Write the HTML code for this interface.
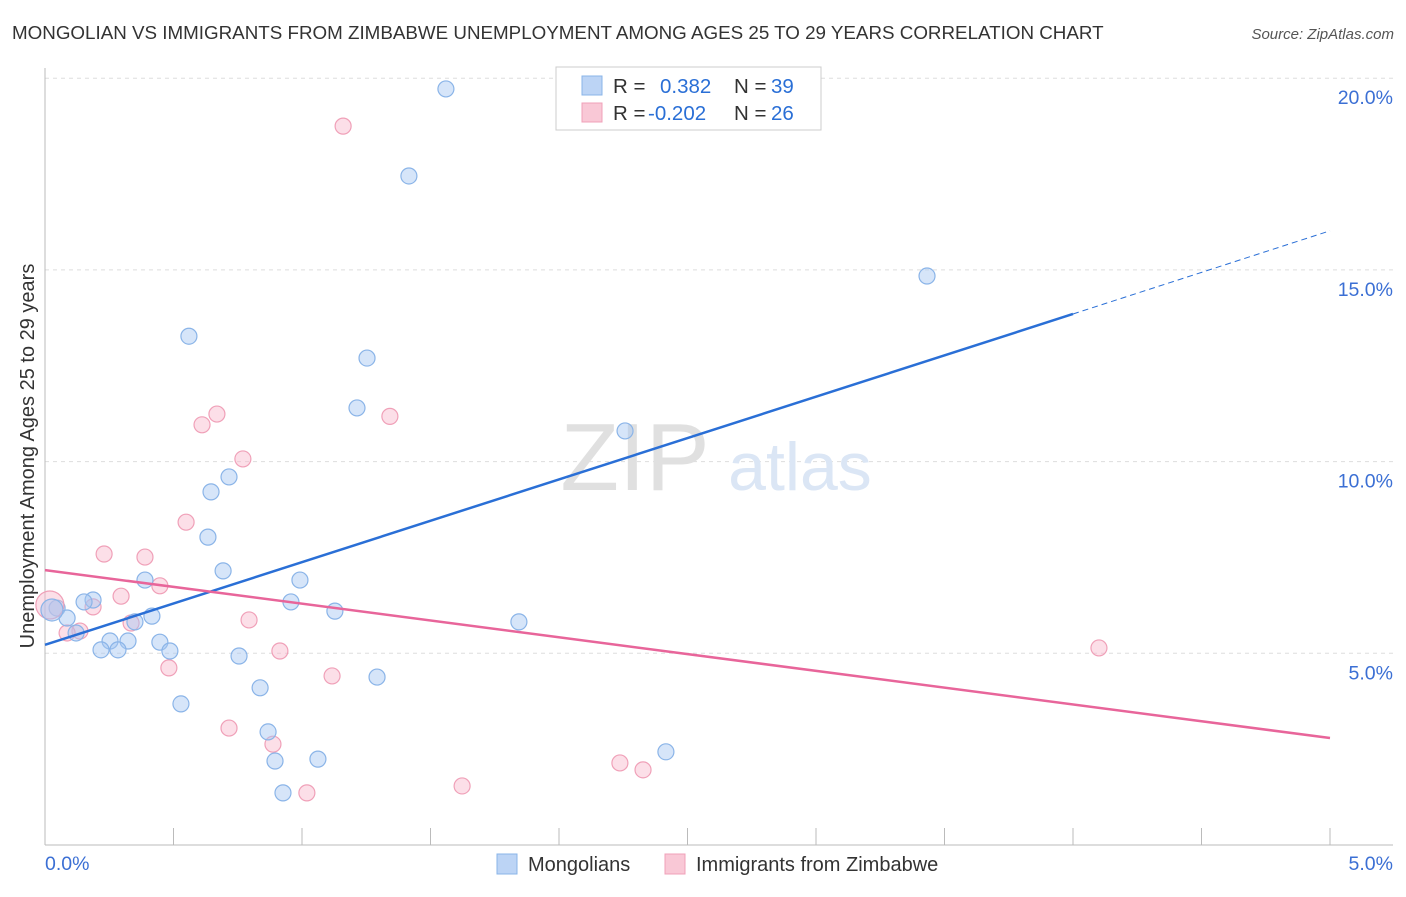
<!DOCTYPE html>
<html><head><meta charset="utf-8"><style>
body{margin:0;background:#fff;font-family:"Liberation Sans",sans-serif;}
svg text{font-family:"Liberation Sans",sans-serif;}
</style></head><body>
<svg id="c" width="1406" height="892" xmlns="http://www.w3.org/2000/svg">
<text x="12" y="39" font-size="18.8" fill="#333">MONGOLIAN VS IMMIGRANTS FROM ZIMBABWE UNEMPLOYMENT AMONG AGES 25 TO 29 YEARS CORRELATION CHART</text>
<text x="1394" y="39" font-size="15" fill="#555" text-anchor="end" font-style="italic">Source: ZipAtlas.com</text>
<g id="grid"></g>
<text x="635" y="490" font-size="96" fill="#e0e0e0" font-family="Liberation Serif" text-anchor="middle">ZIP</text>
<text x="800" y="490" font-size="68" fill="#dbe6f5" text-anchor="middle">atlas</text>
<text transform="translate(34,456) rotate(-90)" font-size="20" fill="#333" text-anchor="middle">Unemployment Among Ages 25 to 29 years</text>
<g id="pts"></g>
<g id="lines"></g>
<g>
<rect x="556" y="67" width="265" height="63" fill="#fff" stroke="#ccc"/>
<rect x="582" y="76" width="20" height="19" fill="#bcd4f5" stroke="#8ab4e8"/>
<rect x="582" y="103" width="20" height="19" fill="#f9c8d6" stroke="#f0a0b8"/>
<text x="613" y="93" font-size="20.5" fill="#333">R =</text>
<text x="660" y="93" font-size="20.5" fill="#2a6fd6">0.382</text>
<text x="734" y="93" font-size="20.5" fill="#333">N =</text>
<text x="771" y="93" font-size="20.5" fill="#2a6fd6">39</text>
<text x="613" y="120" font-size="20.5" fill="#333">R =</text>
<text x="648" y="120" font-size="20.5" fill="#2a6fd6">-0.202</text>
<text x="734" y="120" font-size="20.5" fill="#333">N =</text>
<text x="771" y="120" font-size="20.5" fill="#2a6fd6">26</text>
</g>
<g>
<rect x="497" y="854" width="20" height="20" fill="#bcd4f5" stroke="#8ab4e8"/>
<text x="528" y="871" font-size="20" fill="#333">Mongolians</text>
<rect x="665" y="854" width="20" height="20" fill="#f9c8d6" stroke="#f0a0b8"/>
<text x="696" y="871" font-size="20" fill="#333">Immigrants from Zimbabwe</text>
</g>
</svg>
<script>
const xTicks=[0,0.5,1,1.5,2,2.5,3,3.5,4,4.5,5];
const yTicks=[5,10,15,20];
const yTickLabels=["5.0%","10.0%","15.0%","20.0%"];
const blueX=[1.560,1.416,3.432,0.560,1.253,1.214,2.257,0.716,0.646,0.634,0.693,0.389,0.992,0.187,0.152,0.957,0.047,1.128,0.416,0.086,0.350,1.844,0.121,0.253,0.323,0.447,0.218,0.284,0.486,0.755,0.837,1.292,0.529,0.868,2.416,0.895,1.062,0.926];
const blueY=[19.72,17.45,14.84,13.27,12.70,11.40,10.80,9.60,9.21,8.03,7.15,6.91,6.91,6.39,6.34,6.34,6.18,6.10,5.97,5.92,5.82,5.82,5.53,5.32,5.32,5.29,5.09,5.09,5.06,4.93,4.10,4.38,3.68,2.95,2.43,2.19,2.24,1.36];
const pinkX=[1.160,0.669,0.611,1.342,0.770,0.549,0.230,0.389,0.447,0.296,0.187,0.794,0.335,0.136,0.086,0.914,0.482,1.117,0.716,0.887,4.101,2.237,2.327,1.623,1.019];
const pinkY=[18.75,11.24,10.96,11.18,10.07,8.42,7.59,7.51,6.76,6.49,6.21,5.87,5.79,5.58,5.53,5.06,4.62,4.41,3.05,2.63,5.14,2.14,1.96,1.54,1.36];
const bigBlue=[0.027,6.13], bigPink=[0.019,6.26];
const blueLine=[0,5.22,4,13.85,5,16.02];
const pinkLine=[0,7.17,5,2.79];
const NS="http://www.w3.org/2000/svg";
const X=v=>45+v*257, Y=v=>845-v*38.34;
function mk(t,a,p){const e=document.createElementNS(NS,t);for(const k in a)e.setAttribute(k,a[k]);p.appendChild(e);return e;}
const g=document.getElementById('grid');
yTicks.forEach((t,i)=>{
 const l=mk('line',{x1:45,x2:1393,y1:Y(t),y2:Y(t),stroke:'#ddd','stroke-dasharray':'4,4'},g);
 
 
 const tx=mk('text',{x:1393,y:Y(t)+26,'font-size':19.5,fill:'#3b6fd4','text-anchor':'end'},g);
 tx.textContent=yTickLabels[i];
 
 
});
const ya=mk('line',{x1:45,x2:45,y1:68,y2:845,stroke:'#bbb'},g);


const xa=mk('line',{x1:45,x2:1393,y1:845,y2:845,stroke:'#bbb'},g);


xTicks.forEach(t=>{
 const l=mk('line',{x1:X(t),x2:X(t),y1:828,y2:845,stroke:'#bbb'},g);
 
 
});
[[0,"0.0%",'start',45],[5,"5.0%",'end',1393]].forEach(d=>{
 const tx=mk('text',{x:d[3],y:870,'font-size':19.5,fill:'#3b6fd4','text-anchor':d[2]},g);
 tx.textContent=d[1];
 
 
});
const p=document.getElementById('pts');
function dot(x,y,r,fill,st,name){const c=mk('circle',{cx:X(x),cy:Y(y),r:r,fill:fill,stroke:st,'stroke-width':1.2},p);
 
 }
pinkX.forEach((x,i)=>dot(x,pinkY[i],8,'rgba(248,185,205,0.45)','#f0a0b8','zimbabwe-point'));
blueX.forEach((x,i)=>dot(x,blueY[i],8,'rgba(165,198,242,0.45)','#8ab4e8','mongolian-point'));
dot(bigPink[0],bigPink[1],14,'rgba(248,185,205,0.45)','#f0a0b8','zimbabwe-point');
dot(bigBlue[0],bigBlue[1],11,'rgba(165,198,242,0.5)','#8ab4e8','mongolian-point');
const L=document.getElementById('lines');
const b1=mk('line',{x1:X(blueLine[0]),y1:Y(blueLine[1]),x2:X(blueLine[2]),y2:Y(blueLine[3]),stroke:'#2a6fd6','stroke-width':2.5},L);


const b2=mk('line',{x1:X(blueLine[2]),y1:Y(blueLine[3]),x2:X(blueLine[4]),y2:Y(blueLine[5]),stroke:'#2a6fd6','stroke-width':1,'stroke-dasharray':'6,4'},L);


const p1=mk('line',{x1:X(pinkLine[0]),y1:Y(pinkLine[1]),x2:X(pinkLine[2]),y2:Y(pinkLine[3]),stroke:'#e8659a','stroke-width':2.5},L);


</script>
</body></html>
